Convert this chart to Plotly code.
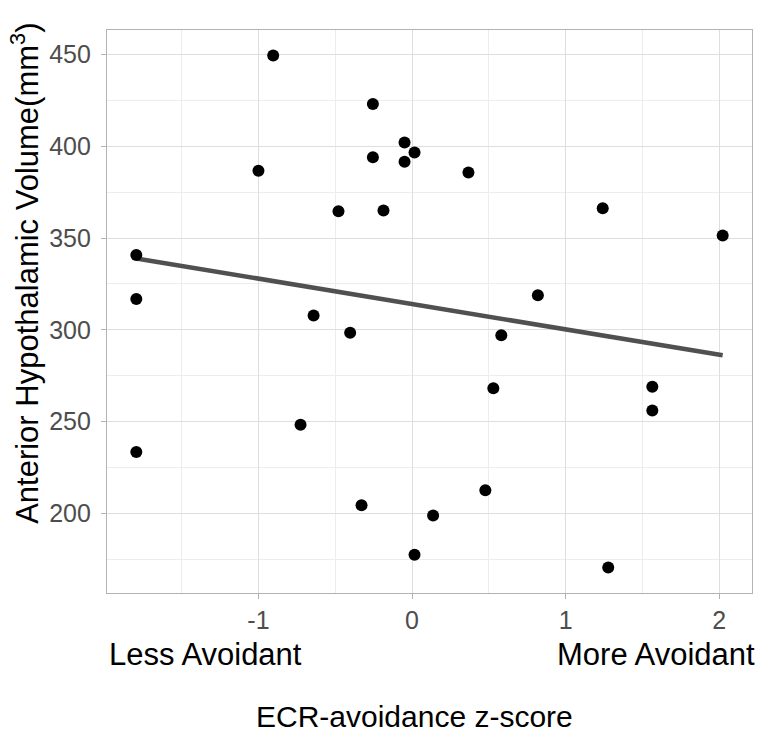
import numpy as np
import plotly.graph_objects as go

# Data
avoidance_z = [-0.904, -0.255, -0.049, 0.016, -0.255, -0.049, -1.000, 0.367,
               -0.479, -0.186, 1.241, 2.022, -1.795, -1.795, 0.819, -0.641,
               -0.403, 0.581, 0.529, 1.564, 1.564, -0.726, -1.795, 0.477,
               -0.329, 0.137, 0.016, 1.277]
volume = [449.3, 422.9, 402.0, 396.6, 394.0, 391.5, 386.6, 385.6,
          364.6, 365.0, 366.2, 351.4, 340.8, 316.8, 318.8, 307.8,
          298.4, 297.1, 268.2, 269.1, 256.1, 248.3, 233.5, 212.7,
          204.5, 198.9, 177.6, 170.7]

x_ticks = [-1, 0, 1, 2]
x_tick_labels = ["-1", "0", "1", "2"]
y_ticks = [200, 250, 300, 350, 400, 450]

x = np.array(avoidance_z)
y = np.array(volume)
slope, intercept = np.polyfit(x, y, 1)
fit_x = np.array([x.min(), x.max()])
fit_y = intercept + slope * fit_x

def expand(a, f=0.05):
    lo, hi = float(np.min(a)), float(np.max(a))
    s = hi - lo
    return [lo - f * s, hi + f * s]

FONT = "Liberation Sans, Arial, Helvetica, sans-serif"

fig = go.Figure()
fig.add_trace(go.Scatter(x=fit_x, y=fit_y, mode="lines",
                         line=dict(color="#505050", width=4.5),
                         hoverinfo="skip", showlegend=False))
fig.add_trace(go.Scatter(x=x, y=y, mode="markers",
                         marker=dict(color="black", size=12),
                         showlegend=False))

axis_common = dict(
    showline=True, linecolor="#b3b3b3", linewidth=1.3, mirror=True,
    ticks="outside", ticklen=5, tickcolor="#b3b3b3", tickwidth=1,
    gridcolor="#dedede", gridwidth=1, zeroline=False,
    tickfont=dict(family=FONT, size=25, color="#4d4d4d"),
)

fig.update_xaxes(range=expand(x), tickvals=x_ticks, ticktext=x_tick_labels,
                 minor=dict(tickvals=[-1.5, -0.5, 0.5, 1.5], showgrid=True,
                            gridcolor="#ededed", gridwidth=1, ticks=""),
                 ticklabelstandoff=0, **axis_common)
fig.update_yaxes(range=expand(y), tickvals=y_ticks,
                 minor=dict(tickvals=[175, 225, 275, 325, 375, 425], showgrid=True,
                            gridcolor="#ededed", gridwidth=1, ticks=""),
                 ticklabelstandoff=5,
                 **axis_common)

fig.add_annotation(text="Anterior Hypothalamic Volume(mm<sup>3</sup>)",
                   xref="paper", yref="paper", x=-0.127, y=0.567, textangle=-90,
                   xanchor="center", yanchor="middle", showarrow=False,
                   font=dict(family=FONT, size=31, color="black"))
fig.add_annotation(text="Less Avoidant", xref="paper", yref="paper",
                   x=0, y=-0.11, xanchor="left", yanchor="middle", showarrow=False,
                   font=dict(family=FONT, size=31, color="black"))
fig.add_annotation(text="More Avoidant", xref="paper", yref="paper",
                   x=1, xshift=5, y=-0.11, xanchor="right", yanchor="middle", showarrow=False,
                   font=dict(family=FONT, size=31, color="black"))
fig.add_annotation(text="ECR-avoidance z-score", xref="paper", yref="paper",
                   x=0.476, y=-0.22, xanchor="center", yanchor="middle", showarrow=False,
                   font=dict(family=FONT, size=30, color="black"))

fig.update_layout(
    width=759, height=732,
    margin=dict(l=107, r=7, t=30, b=139),
    plot_bgcolor="white", paper_bgcolor="white",
    font=dict(family=FONT),
)

fig.write_html("out.html", config={"displayModeBar": False},
               post_script="document.body.style.margin='0px';document.body.style.overflow='hidden';")
